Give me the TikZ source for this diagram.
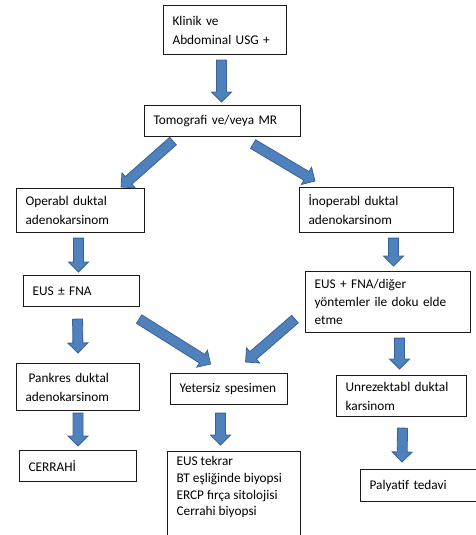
\documentclass[tikz,border=0pt]{standalone}
\usepackage{fontspec}
\setmainfont{Carlito}
\usetikzlibrary{calc}
\definecolor{arrfill}{HTML}{4F81BD}
\definecolor{arrline}{HTML}{3A6296}
\definecolor{boxline}{HTML}{1A1A1A}
\tikzset{
  box/.style={draw=boxline, line width=1.1pt, anchor=north west, align=left,
    inner xsep=9pt, inner ysep=0pt, font=\fontsize{13.3}{19}\selectfont},
  blockarr/.style={fill=arrfill, draw=arrline, line width=0.8pt, line join=miter}
}
\newcommand\blockarrow[2]{%
  \coordinate (ba) at (#1);
  \coordinate (bb) at (#2);
  \coordinate (bm) at ($(bb)!10pt!(ba)$);
  \filldraw[blockarr] ($(ba)!5pt!90:(bb)$) -- ($(bm)!5pt!-90:(ba)$) -- ($(bm)!10pt!-90:(ba)$) -- (bb) -- ($(bm)!10pt!90:(ba)$) -- ($(bm)!5pt!90:(ba)$) -- ($(ba)!5pt!-90:(bb)$) -- cycle;
}
\begin{document}
\begin{tikzpicture}[x=1pt,y=-1pt]
\useasboundingbox (0,0) rectangle (476,535);
% boxes
\node[box, text width=105pt, minimum height=49pt] (k) at (163,5) {Klinik ve\\Abdominal USG +};
\node[box, text width=138pt, minimum height=31pt] (t) at (144,105) {Tomografi ve/veya MR};
\node[box, text width=110pt, minimum height=44pt] (op) at (16,188) {Operabl duktal\\adenokarsinom};
\node[box, text width=136pt, minimum height=45pt] (in) at (299,187) {İnoperabl duktal\\adenokarsinom};
\node[box, text width=98pt, minimum height=31pt] (e1) at (23,275) {EUS ± FNA};
\node[box, text width=147pt, minimum height=61pt, font=\fontsize{13.3}{18}\selectfont] (e2) at (305,271) {EUS + FNA/diğer\\yöntemler ile doku elde\\etme};
\node[box, text width=105pt, minimum height=47pt] (pk) at (16,363) {\hspace*{3pt}Pankres duktal\\adenokarsinom};
\node[box, text width=99pt, minimum height=31pt] (ye) at (170,373) {Yetersiz spesimen};
\node[box, text width=112pt, minimum height=41pt] (un) at (336,375) {Unrezektabl duktal\\karsinom};
\node[box, text width=99pt, minimum height=31pt] (ce) at (19,450) {CERRAHİ};
\node[box, inner ysep=5pt] (et) at (167,451) {\parbox[t][95pt][t]{115pt}{\fontsize{13.3}{16.7}\selectfont\raggedright EUS tekrar\\BT eşliğinde biyopsi\\ERCP fırça sitolojisi\\Cerrahi biyopsi}};
\node[box, text width=107pt, minimum height=32pt] (pa) at (360,469) {Palyatif tedavi};
% arrows
\blockarrow{$(k.south)+(-3.5,5)$}{$(t.north)+(-1,-3)$}
\blockarrow{$(t.south west)+(29,4)$}{$(op.north east)+(-24,-1)$}
\blockarrow{$(t.south east)+(-48,7)$}{$(in.north west)+(16,-6)$}
\blockarrow{$(op.south)+(-2,5)$}{$(e1.north)+(-3,-3)$}
\blockarrow{$(in.south)+(17,5)$}{$(e2.north)+(5.5,-5)$}
\blockarrow{$(e1.south)+(-4,12)$}{$(pk.north)+(0,-10)$}
\blockarrow{$(e1.south east)+(-1,12)$}{$(ye.north)+(-18.5,-9)$}
\blockarrow{$(e2.south west)+(-10,-14)$}{$(ye.north)+(16.5,-11)$}
\blockarrow{$(e2.south)+(11.5,5)$}{$(un.north)+(-2,-6)$}
\blockarrow{$(pk.south)+(0,2)$}{$(ce.north)+(0,-4)$}
\blockarrow{$(ye.south)+(-8.5,8)$}{$(et.north)+(-13.5,-6)$}
\blockarrow{$(un.south)+(1,11)$}{$(pa.north west)+(42,-7)$}
\end{tikzpicture}
\end{document}
